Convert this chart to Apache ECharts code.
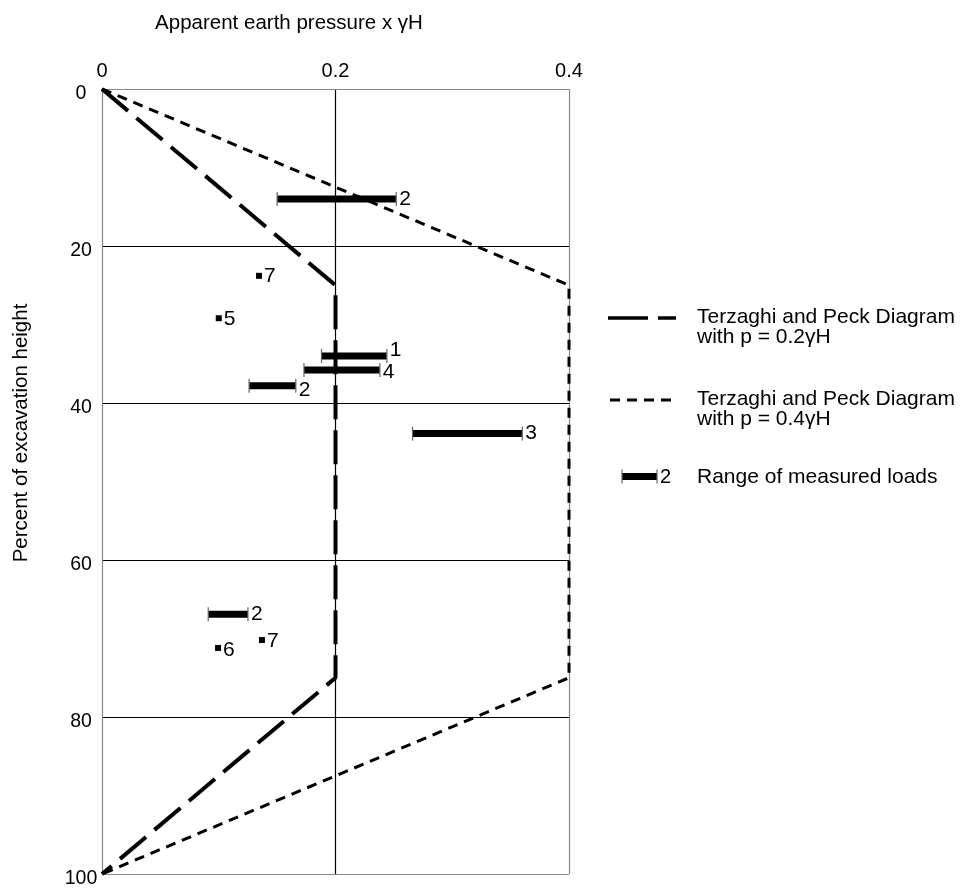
<!DOCTYPE html>
<html><head><meta charset="utf-8">
<script src="https://cdn.jsdelivr.net/npm/echarts@6/dist/echarts.min.js"></script>
<style>html,body{margin:0;padding:0;background:#fff}#c{width:962px;height:888px}</style>
</head><body><div id="c"></div>
<script>
// ---- data ----
const xTicks = [0, 0.2, 0.4];
const yTicks = [0, 20, 40, 60, 80, 100];
// Terzaghi & Peck envelopes (x = pressure / gammaH, y = % of excavation height)
const tp02X = [0, 0.2, 0.2, 0];
const tp02Y = [0, 25, 75, 100];
const tp04X = [0, 0.4, 0.4, 0];
const tp04Y = [0, 25, 75, 100];
// measured load ranges
const rangeLo    = [0.150, 0.188, 0.173, 0.126, 0.266, 0.091];
const rangeHi    = [0.252, 0.244, 0.238, 0.166, 0.360, 0.125];
const rangeDepth = [14.0, 34.0, 35.8, 37.8, 43.9, 66.9];
const rangeCase  = ['2', '1', '4', '2', '3', '2'];
// single measured loads
const pointX    = [0.1345, 0.100, 0.0994, 0.137];
const pointY    = [23.8, 29.2, 71.2, 70.2];
const pointCase = ['7', '5', '6', '7'];

// ---- styling (not data) ----
const rangeLabelDy = [0, -6, 2, 4, 0, 0];
const pointLabelDy = [0, 1, 2, 1];
const FONT = 'Liberation Sans, Arial, sans-serif';

const chart = echarts.init(document.getElementById('c'), null, {renderer: 'canvas'});

const zip = (a, b) => a.map((v, i) => [v, b[i]]);
const rangeData = rangeLo.map((v, i) => [v, rangeHi[i], rangeDepth[i], i]);
const pointData = pointX.map((v, i) => [v, pointY[i], i]);

const option = {
  animation: false,
  backgroundColor: '#fff',
  grid: {left: 102, top: 89, width: 467, height: 785, containLabel: false, outerBoundsMode: 'none', show: false},
  xAxis: {
    type: 'value', position: 'top', min: 0, max: 0.4, interval: 0.2,
    axisLine: {show: true, lineStyle: {color: '#888', width: 1}},
    axisTick: {show: false},
    axisLabel: {margin: 8, fontSize: 20, color: '#000', fontFamily: FONT, showMinLabel: true, showMaxLabel: true,
      formatter: v => (v === 0 ? '0' : String(Math.round(v * 10) / 10))},
    splitLine: {show: true, lineStyle: {color: ['#888', '#000', '#888'], width: 1.2}}
  },
  yAxis: {
    type: 'value', inverse: true, min: 0, max: 100, interval: 20,
    axisLine: {show: true, lineStyle: {color: '#888', width: 1}},
    axisTick: {show: false},
    axisLabel: {margin: 21, align: 'center', showMinLabel: true, showMaxLabel: true,
      formatter: v => '{t|' + v + '}',
      rich: {t: {fontSize: 19.5, color: '#000', fontFamily: FONT, padding: [10, 0, 0, 0]}}},
    splitLine: {show: true, lineStyle: {color: ['#888', '#000', '#000', '#000', '#000', '#888'], width: 1.2}}
  },
  graphic: [
    {type: 'text', x: 289, y: 23, style: {text: 'Apparent earth pressure x γH', font: '20.5px ' + FONT, fill: '#000', align: 'center', verticalAlign: 'middle'}},
    {type: 'text', x: 21, y: 433, rotation: Math.PI / 2, style: {text: 'Percent of excavation height', font: '20.5px ' + FONT, fill: '#000', align: 'center', verticalAlign: 'middle'}},
    // legend
    {type: 'line', shape: {x1: 608, y1: 318, x2: 676, y2: 318}, style: {stroke: '#000', lineWidth: 3.5, lineDash: [40, 10]}},
    {type: 'text', x: 697, y: 317, style: {text: 'Terzaghi and Peck Diagram', font: '21px ' + FONT, fill: '#000', verticalAlign: 'middle'}},
    {type: 'text', x: 697, y: 337, style: {text: 'with p = 0.2γH', font: '21px ' + FONT, fill: '#000', verticalAlign: 'middle'}},
    {type: 'line', shape: {x1: 610, y1: 400, x2: 672, y2: 400}, style: {stroke: '#000', lineWidth: 3, lineDash: [10, 7]}},
    {type: 'text', x: 697, y: 399, style: {text: 'Terzaghi and Peck Diagram', font: '21px ' + FONT, fill: '#000', verticalAlign: 'middle'}},
    {type: 'text', x: 697, y: 419, style: {text: 'with p = 0.4γH', font: '21px ' + FONT, fill: '#000', verticalAlign: 'middle'}},
    {type: 'rect', shape: {x: 622, y: 473, width: 35, height: 7}, style: {fill: '#000'}},
    {type: 'line', shape: {x1: 622, y1: 469.5, x2: 622, y2: 483.5}, style: {stroke: '#666', lineWidth: 1.2}},
    {type: 'line', shape: {x1: 657, y1: 469.5, x2: 657, y2: 483.5}, style: {stroke: '#666', lineWidth: 1.2}},
    {type: 'text', x: 660, y: 477, style: {text: '2', font: '20px ' + FONT, fill: '#000', verticalAlign: 'middle'}},
    {type: 'text', x: 697, y: 477, style: {text: 'Range of measured loads', font: '21px ' + FONT, fill: '#000', verticalAlign: 'middle'}}
  ],
  series: [
    {type: 'line', data: zip(tp02X, tp02Y), symbol: 'none', z: 3,
      lineStyle: {color: '#000', width: 4, type: [34, 11]}},
    {type: 'line', data: zip(tp04X, tp04Y), symbol: 'none', z: 3,
      lineStyle: {color: '#000', width: 3, type: [10, 7]}},
    {type: 'custom', data: rangeData, z: 4,
      renderItem: (params, api) => {
        const y = api.value(2);
        const i = api.value(3);
        const p1 = api.coord([api.value(0), y]);
        const p2 = api.coord([api.value(1), y]);
        const th = 7, tk = 14;
        return {type: 'group', children: [
          {type: 'rect', shape: {x: p1[0], y: p1[1] - th / 2, width: p2[0] - p1[0], height: th}, style: {fill: '#000'}},
          {type: 'line', shape: {x1: p1[0], y1: p1[1] - tk / 2, x2: p1[0], y2: p1[1] + tk / 2}, style: {stroke: '#666', lineWidth: 1.2}},
          {type: 'line', shape: {x1: p2[0], y1: p2[1] - tk / 2, x2: p2[0], y2: p2[1] + tk / 2}, style: {stroke: '#666', lineWidth: 1.2}},
          {type: 'text', x: p2[0] + 3, y: p2[1] + rangeLabelDy[i], style: {text: rangeCase[i], font: '21px ' + FONT, fill: '#000', verticalAlign: 'middle', align: 'left'}}
        ]};
      }},
    {type: 'custom', data: pointData, z: 4,
      renderItem: (params, api) => {
        const i = api.value(2);
        const p = api.coord([api.value(0), api.value(1)]);
        const s = 6;
        return {type: 'group', children: [
          {type: 'rect', shape: {x: p[0] - s / 2, y: p[1] - s / 2, width: s, height: s}, style: {fill: '#000'}},
          {type: 'text', x: p[0] + s / 2 + 2, y: p[1] + pointLabelDy[i], style: {text: pointCase[i], font: '21px ' + FONT, fill: '#000', verticalAlign: 'middle', align: 'left'}}
        ]};
      }}
  ]
};
chart.setOption(option);
</script>
</body></html>
